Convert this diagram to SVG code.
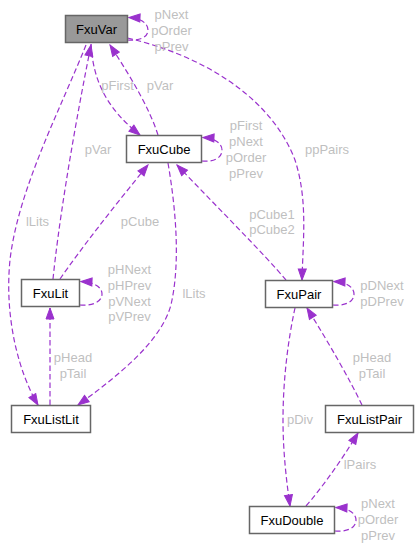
<svg xmlns="http://www.w3.org/2000/svg" width="418" height="549" viewBox="0 0 418 549">
<style>
.node rect{fill:#ffffff;stroke:#666666;stroke-width:1.5}
.node text{font-family:"Liberation Sans",Arial,sans-serif;font-size:13px;fill:#000000;text-anchor:middle}
.edge{fill:none;stroke:#9a32cd;stroke-width:1.2;stroke-dasharray:5.5,3;marker-end:url(#ah)}
.lbl{font-family:"Liberation Sans",Arial,sans-serif;font-size:13px;fill:#bfbfbf;text-anchor:middle}
</style>
<defs>
<marker id="ah" markerUnits="userSpaceOnUse" markerWidth="13" markerHeight="10" refX="12" refY="4.5" orient="auto" viewBox="0 0 13 9">
<path d="M1,0.5 L12,4.5 L1,8.5 Z" fill="#9a32cd" stroke="#9a32cd" stroke-width="1"/>
</marker>
</defs>
<rect width="418" height="549" fill="#ffffff"/>
<g id="connectors">
<path class="edge" d="M127.5,40 C138,41 148,38 148,30 C148,23 140,18 129,17.5"/>
<path class="edge" d="M91,44 C93,80 106,108 140,135"/>
<path class="edge" d="M158,135 C150,110 134,82 110,45"/>
<path class="edge" d="M127.5,38 C200,55 270,95 295,160 C308,200 303,240 302,280"/>
<path class="edge" d="M86,45 C60,110 18,190 10,260 C4,320 20,375 38,405"/>
<path class="edge" d="M53,279 C58,230 70,150 91,45"/>
<path class="edge" d="M202,161 C212,162 222,159 222,150 C222,143 214,138 203,137.5"/>
<path class="edge" d="M60,279 C80,250 115,205 148,165"/>
<path class="edge" d="M168,163 C176,210 180,260 172,300 C165,340 115,378 78,405"/>
<path class="edge" d="M286,280 C265,255 220,210 177,165"/>
<path class="edge" d="M80,305 C90,306 102,303 102,294 C102,287 94,282 81,281.5"/>
<path class="edge" d="M50,405 L50,308"/>
<path class="edge" d="M333,305 C343,306 354,303 354,294 C354,287 346,282 334,281.5"/>
<path class="edge" d="M295,308 C288,340 283,380 283,420 C283,450 286,478 290,506"/>
<path class="edge" d="M362,405 C350,380 330,345 307,308"/>
<path class="edge" d="M306,506 C320,490 340,463 358,433"/>
<path class="edge" d="M335,531 C345,532 356,529 356,520 C356,513 348,508 336,507.5"/>
</g>
<g id="labels">
<text class="lbl" x="171.5" y="18.5">pNext</text>
<text class="lbl" x="171.5" y="34.5">pOrder</text>
<text class="lbl" x="171.5" y="50.5">pPrev</text>
<text class="lbl" x="117.5" y="89.5">pFirst</text>
<text class="lbl" x="160" y="89.5">pVar</text>
<text class="lbl" x="98" y="153.5">pVar</text>
<text class="lbl" x="327" y="153.5">ppPairs</text>
<text class="lbl" x="246" y="130">pFirst</text>
<text class="lbl" x="246" y="146">pNext</text>
<text class="lbl" x="246" y="162">pOrder</text>
<text class="lbl" x="246" y="177.5">pPrev</text>
<text class="lbl" x="37.5" y="225.5">lLits</text>
<text class="lbl" x="140" y="225.5">pCube</text>
<text class="lbl" x="272" y="218.5">pCube1</text>
<text class="lbl" x="272" y="234">pCube2</text>
<text class="lbl" x="129.5" y="273.5">pHNext</text>
<text class="lbl" x="129.5" y="289.5">pHPrev</text>
<text class="lbl" x="129.5" y="305.5">pVNext</text>
<text class="lbl" x="129.5" y="321">pVPrev</text>
<text class="lbl" x="194" y="297.5">lLits</text>
<text class="lbl" x="382" y="290">pDNext</text>
<text class="lbl" x="382" y="305.5">pDPrev</text>
<text class="lbl" x="73" y="362">pHead</text>
<text class="lbl" x="73" y="377.5">pTail</text>
<text class="lbl" x="372" y="362">pHead</text>
<text class="lbl" x="372" y="377.5">pTail</text>
<text class="lbl" x="300" y="423.5">pDiv</text>
<text class="lbl" x="360" y="468.5">lPairs</text>
<text class="lbl" x="378" y="507.5">pNext</text>
<text class="lbl" x="378" y="523.5">pOrder</text>
<text class="lbl" x="378" y="539.5">pPrev</text>
</g>
<g id="FxuVar" class="node"><rect x="65.5" y="15.5" width="62" height="27" style="fill:#999999"/><text x="96.5" y="33.5">FxuVar</text></g>
<g id="FxuCube" class="node"><rect x="126.5" y="135.5" width="75" height="27"/><text x="164" y="153.5">FxuCube</text></g>
<g id="FxuLit" class="node"><rect x="21.5" y="279.5" width="58" height="27"/><text x="50.5" y="297.5">FxuLit</text></g>
<g id="FxuListLit" class="node"><rect x="11.5" y="405.5" width="79" height="27"/><text x="51" y="423.5">FxuListLit</text></g>
<g id="FxuPair" class="node"><rect x="265.5" y="280.5" width="67" height="27"/><text x="299" y="298.5">FxuPair</text></g>
<g id="FxuListPair" class="node"><rect x="325.5" y="405.5" width="88" height="27"/><text x="369.5" y="423.5">FxuListPair</text></g>
<g id="FxuDouble" class="node"><rect x="249.5" y="506.5" width="85" height="27"/><text x="292" y="524.5">FxuDouble</text></g>
</svg>
